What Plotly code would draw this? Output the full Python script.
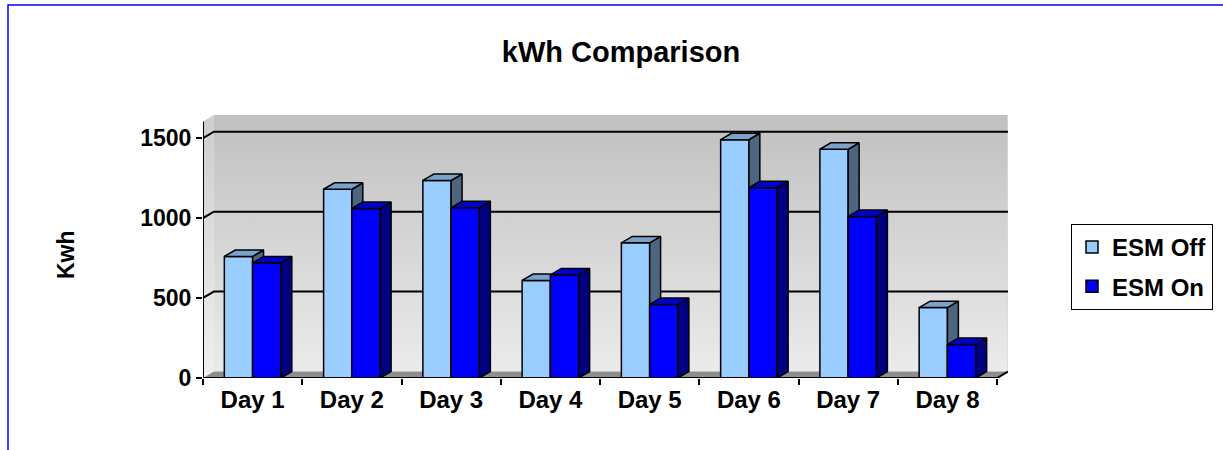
import plotly.graph_objects as go

# ---------------- data ----------------
days = ["Day 1", "Day 2", "Day 3", "Day 4", "Day 5", "Day 6", "Day 7", "Day 8"]
esm_off = [760, 1180, 1235, 610, 845, 1490, 1430, 440]
esm_on = [720, 1060, 1065, 645, 460, 1190, 1010, 210]
y_ticks = [0, 500, 1000, 1500]

# ---------------- geometry / style ----------------
W, H = 1223, 450
ML, MR, MT, MB = 203, 215, 115, 72
PW, PH = W - ML - MR, H - MT - MB
Y_MAX = 1644
DX = 0.11      # depth offset along x (category units)
DY = 40        # depth offset along y (value units)
BW = 0.285     # bar width (category units)
X0, X1 = -0.5, len(days) - 0.5
FONT = "Liberation Sans, Arial, sans-serif"

C_OFF, C_OFF_TOP, C_OFF_SIDE = "#99CCFF", "#7AA3CC", "#4D6680"
C_ON, C_ON_TOP, C_ON_SIDE = "#0000FF", "#0000CC", "#000080"

xs = list(range(len(days)))

fig = go.Figure()

# back wall
fig.add_trace(go.Scatter(
    x=[X0 + DX, X1 + DX, X1 + DX, X0 + DX, X0 + DX],
    y=[DY, DY, Y_MAX, Y_MAX, DY],
    mode="lines", line=dict(width=0), fill="toself",
    fillgradient=dict(type="vertical", colorscale=[[0, "#EBEBEB"], [1, "#C0C0C0"]]),
    showlegend=False, hoverinfo="skip", zorder=-3))
# left wall
fig.add_trace(go.Scatter(
    x=[X0, X0 + DX, X0 + DX, X0, X0],
    y=[0, DY, Y_MAX, Y_MAX - DY, 0],
    mode="lines", line=dict(width=0), fill="toself",
    fillgradient=dict(type="vertical", colorscale=[[0, "#EFEFEF"], [1, "#CDCDCD"]]),
    showlegend=False, hoverinfo="skip", zorder=-3))
# right edge highlight of the back wall
fig.add_trace(go.Scatter(x=[X1 + DX, X1 + DX], y=[DY, Y_MAX], mode="lines",
                         line=dict(color="#DADADA", width=1.5),
                         showlegend=False, hoverinfo="skip", zorder=-3))
# floor
fig.add_trace(go.Scatter(
    x=[X0, X1, X1 + DX, X0 + DX, X0],
    y=[0, 0, DY, DY, 0],
    mode="lines", line=dict(width=0), fill="toself", fillcolor="#8E8E8E",
    showlegend=False, hoverinfo="skip", zorder=-3))

# gridlines on back wall (with the slant across the side wall)
gx, gy = [], []
for v in y_ticks[1:]:
    gx += [X0, X0 + DX, X1 + DX, None]
    gy += [v, v + DY, v + DY, None]
fig.add_trace(go.Scatter(x=gx, y=gy, mode="lines", line=dict(color="black", width=2),
                         showlegend=False, hoverinfo="skip", zorder=-2))

# front faces (bars)
fig.add_trace(go.Bar(x=xs, y=esm_off, name="ESM Off", width=BW, offset=-BW,
                     legendgroup="off",
                     marker=dict(color=C_OFF, line=dict(color="black", width=1.5)),
                     zorder=1))
fig.add_trace(go.Bar(x=xs, y=esm_on, name="ESM On", width=BW, offset=0,
                     legendgroup="on",
                     marker=dict(color=C_ON, line=dict(color="black", width=1.5)),
                     zorder=3))


def faces(vals, left_off, fill_top, fill_side, z):
    tx, ty, sx, sy = [], [], [], []
    for xc, v in zip(xs, vals):
        a = xc + left_off
        b = a + BW
        tx += [a, b, b + DX, a + DX, a, None]
        ty += [v, v, v + DY, v + DY, v, None]
        sx += [b, b + DX, b + DX, b, b, None]
        sy += [0, DY, v + DY, v, 0, None]
    fig.add_trace(go.Scatter(x=sx, y=sy, mode="lines", fill="toself", fillcolor=fill_side,
                             line=dict(color="black", width=1.5), showlegend=False,
                             hoverinfo="skip", zorder=z))
    fig.add_trace(go.Scatter(x=tx, y=ty, mode="lines", fill="toself", fillcolor=fill_top,
                             line=dict(color="black", width=1.5), showlegend=False,
                             hoverinfo="skip", zorder=z))


faces(esm_off, -BW, C_OFF_TOP, C_OFF_SIDE, 2)
faces(esm_on, 0, C_ON_TOP, C_ON_SIDE, 4)

# front axis lines
fig.add_trace(go.Scatter(x=[X0, X0, None, X0, X1, X1 + DX],
                         y=[0, Y_MAX - DY, None, 0, 0, DY],
                         mode="lines", line=dict(color="black", width=2),
                         showlegend=False, hoverinfo="skip", cliponaxis=False, zorder=5))

# blue outer border
px = lambda p: (p - ML) / PW
py = lambda p: (H - MB - p) / PH
fig.add_shape(type="rect", xref="paper", yref="paper",
              x0=px(8), x1=px(W + 20), y0=py(H + 20), y1=py(5),
              line=dict(color="#0000FF", width=1.5), fillcolor="rgba(0,0,0,0)")

fig.add_annotation(text="Kwh", xref="paper", yref="paper", x=px(66), y=py(255),
                   xanchor="center", yanchor="middle",
                   textangle=-90, showarrow=False,
                   font=dict(family=FONT, size=23, color="black", weight="bold"))

fig.update_layout(
    width=W, height=H,
    margin=dict(l=ML, r=MR, t=MT, b=MB, autoexpand=False),
    paper_bgcolor="white", plot_bgcolor="white",
    barmode="overlay",
    font=dict(family=FONT, color="black", weight="bold"),
    title=dict(text="kWh Comparison", x=621 / W, xanchor="center",
               y=1 - 52 / H, yanchor="middle", yref="container",
               font=dict(family=FONT, size=29, color="black", weight="bold")),
    showlegend=True,
    legend=dict(x=px(1071), y=py(224), xanchor="left", yanchor="top",
                bordercolor="black", borderwidth=1, bgcolor="white",
                traceorder="grouped", tracegroupgap=5, itemwidth=30,
                font=dict(family=FONT, size=24, color="black", weight="bold")),
    xaxis=dict(range=[X0, X1 + DX], tickvals=xs, ticktext=days, ticks="",
               showgrid=False, zeroline=False, showline=False,
               ticklabelstandoff=5,
               tickfont=dict(family=FONT, size=24, color="black", weight="bold"),
               minor=dict(tickvals=[x - 0.5 for x in xs] + [X1], ticks="outside",
                          ticklen=6, tickwidth=2, tickcolor="black", showgrid=False)),
    yaxis=dict(range=[0, Y_MAX], tickvals=y_ticks, ticks="outside", ticklen=6,
               tickwidth=2, tickcolor="black", showgrid=False, zeroline=False,
               showline=False,
               tickfont=dict(family=FONT, size=23, color="black", weight="bold")),
)

fig.write_html("out.html", config={"displayModeBar": False},
               post_script="document.body.style.margin='0';")
